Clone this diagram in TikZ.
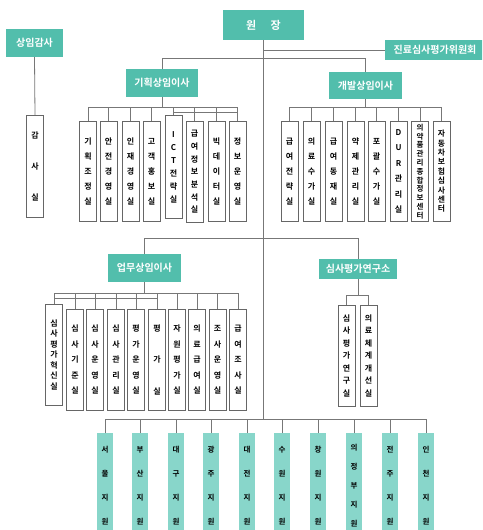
\documentclass[tikz,border=0pt]{standalone}
\usepackage{fontspec}
\setmainfont{Noto Sans CJK KR}[BoldFont={Noto Sans CJK KR Bold}]
\definecolor{tealA}{HTML}{52BEAC}
\definecolor{tealB}{HTML}{88D6CA}
\definecolor{lnc}{HTML}{777777}
\definecolor{bxc}{HTML}{666666}
\tikzset{
  ln/.style={draw=lnc, line width=0.8pt},
  hd/.style={fill=tealA, text=white, inner sep=0pt, font=\fontsize{10}{12}\selectfont\bfseries},
  sb/.style={draw=bxc, fill=white, line width=0.8pt, minimum width=17pt, minimum height=100pt,
    inner sep=0pt, anchor=north, align=center, font=\fontsize{8}{#1}\selectfont\bfseries},
  rg/.style={fill=tealB, minimum width=16pt, minimum height=105pt, inner sep=0pt, anchor=north,
    align=center, font=\fontsize{7.5}{#1}\selectfont\bfseries},
}
\begin{document}
\begin{tikzpicture}[x=1pt,y=-1pt]
\useasboundingbox (0,0) rectangle (482,530);
\begin{scope}
\clip (0,0) rectangle (482,530);
% headers
\node[hd, minimum width=81pt, minimum height=30pt, font=\fontsize{11}{13}\selectfont\bfseries] (won) at (263.5,25) {원\hspace{1.3em}장};
\node[hd, minimum width=57pt, minimum height=28pt] (gamsa) at (34.5,43) {상임감사};
\node[hd, minimum width=100pt, minimum height=20pt] (wiwon) at (435,50) {진료심사평가위원회};
\node[hd, minimum width=72pt, minimum height=28pt] (gihoek) at (162,83) {기획상임이사};
\node[hd, minimum width=73pt, minimum height=27pt] (gaebal) at (365.5,85.5) {개발상임이사};
\node[hd, minimum width=73pt, minimum height=28pt] (eopmu) at (144.5,268) {업무상임이사};
\node[hd, minimum width=78pt, minimum height=20pt] (yeongu) at (358,269) {심사평가연구소};
% audit
\node[sb=31, minimum height=102pt] (g1) at (35,115) {감\\사\\실};
% planning
\node[sb=15] (k1) at (88,121) {기\\획\\조\\정\\실};
\node[sb=15] (k2) at (108.5,121) {안\\전\\경\\영\\실};
\node[sb=15] (k3) at (130.5,121) {인\\재\\경\\영\\실};
\node[sb=15] (k4) at (151.5,121) {고\\객\\홍\\보\\실};
\node[sb=13, minimum height=103pt] (k5) at (173.5,115) {I\\C\\T\\전\\략\\실};
\node[sb=12.7, minimum height=101pt] (k6) at (194.5,121) {급\\여\\정\\보\\분\\석\\실};
\node[sb=15] (k7) at (216.5,121) {빅\\데\\이\\터\\실};
\node[sb=15] (k8) at (237.5,121) {정\\보\\운\\영\\실};
% development
\node[sb=15] (d1) at (289.5,121) {급\\여\\전\\략\\실};
\node[sb=15] (d2) at (311.5,121) {의\\료\\수\\가\\실};
\node[sb=15] (d3) at (333.5,121) {급\\여\\동\\재\\실};
\node[sb=15] (d4) at (355.5,121) {약\\제\\관\\리\\실};
\node[sb=15] (d5) at (376.5,121) {포\\괄\\수\\가\\실};
\node[sb=15.4] (d6) at (398.5,121) {D\\U\\R\\관\\리\\실};
\node[sb=8.8, font=\fontsize{7.5}{8.8}\selectfont\bfseries] (d7) at (420,121) {의\\약\\품\\관\\리\\종\\합\\정\\보\\센\\터};
\node[sb=9.4, font=\fontsize{7.8}{9.4}\selectfont\bfseries] (d8) at (441.5,121) {자\\동\\차\\보\\험\\심\\사\\센\\터};
% operations
\node[sb=10.5, minimum height=101pt] (u1) at (54,304) {심\\사\\평\\가\\혁\\신\\실};
\node[sb=15.5, minimum height=101pt] (u2) at (75,309) {심\\사\\기\\준\\실};
\node[sb=15.5, minimum height=101pt] (u3) at (95,309) {심\\사\\운\\영\\실};
\node[sb=15.5, minimum height=101pt] (u4) at (116,309) {심\\사\\관\\리\\실};
\node[sb=15.5, minimum height=101pt] (u5) at (136,309) {평\\가\\운\\영\\실};
\node[sb=31.5, minimum height=101pt] (u6) at (157,309) {평\\가\\실};
\node[sb=15.5, minimum height=101pt] (u7) at (177,309) {자\\원\\평\\가\\실};
\node[sb=15.5, minimum height=101pt] (u8) at (197,309) {의\\료\\급\\여\\실};
\node[sb=15.5, minimum height=101pt] (u9) at (217.5,309) {조\\사\\운\\영\\실};
\node[sb=15.5, minimum height=101pt] (u10) at (238,309) {급\\여\\조\\사\\실};
% research
\node[sb=12.5, minimum height=101pt] (r1) at (346.5,305) {심\\사\\평\\가\\연\\구\\실};
\node[sb=12.5, minimum height=101pt] (r2) at (368.5,305) {의\\료\\체\\계\\개\\선\\실};
% regional
\node[rg=24] (j1) at (105,433) {서\\울\\지\\원};
\node[rg=24] (j2) at (140,433) {부\\산\\지\\원};
\node[rg=24] (j3) at (176,433) {대\\구\\지\\원};
\node[rg=24] (j4) at (211,433) {광\\주\\지\\원};
\node[rg=24] (j5) at (247,433) {대\\전\\지\\원};
\node[rg=24] (j6) at (282,433) {수\\원\\지\\원};
\node[rg=24] (j7) at (318,433) {창\\원\\지\\원};
\node[rg=19] (j8) at (354,433) {의\\정\\부\\지\\원};
\node[rg=24] (j9) at (390,433) {전\\주\\지\\원};
\node[rg=24] (j10) at (426,433) {인\\천\\지\\원};
% connectors
\coordinate (trunkend) at (263.5,419);
\coordinate (b1) at (0,58);
\coordinate (b2) at (0,238);
\coordinate (kb) at (0,107);
\coordinate (kb2) at (0,112);
\coordinate (ub) at (0,293);
\coordinate (ub2) at (0,298);
\coordinate (rb) at (0,295);
\draw[ln] (won.south) -- (trunkend);
\draw[ln] (won.south |- wiwon.west) -- (wiwon.west);
\draw[ln] (gihoek.north) -- (gihoek.north |- b1) -- (gaebal.north |- b1) -- (gaebal.north);
\draw[ln] (gamsa.south) -- (g1.north);
% planning bus
\draw[ln] (gihoek.south) -- (gihoek.south |- kb);
\draw[ln] (k1.north) -- (k1.north |- kb) -- (k8.north |- kb) -- (k8.north);
\foreach \n in {k2,k3,k4,k5,k6,k7} \draw[ln] (\n.north) -- (\n.north |- kb);
\draw[ln] (k5.north |- kb2) -- (k8.north |- kb2);
% development bus
\draw[ln] (gaebal.south) -- (gaebal.south |- kb);
\draw[ln] (d1.north) -- (d1.north |- kb) -- (d8.north |- kb) -- (d8.north);
\foreach \n in {d2,d3,d4,d5,d6,d7} \draw[ln] (\n.north) -- (\n.north |- kb);
% lower split
\draw[ln] (eopmu.north) -- (eopmu.north |- b2) -- (yeongu.north |- b2) -- (yeongu.north);
% operations bus
\draw[ln] (eopmu.south) -- (eopmu.south |- ub);
\draw[ln] (u1.north) -- (u1.north |- ub) -- (u10.north |- ub) -- (u10.north);
\foreach \n in {u2,u3,u4,u5,u6,u7,u8,u9} \draw[ln] (\n.north) -- (\n.north |- ub);
\draw[ln] (u1.north |- ub2) -- (u6.north |- ub2);
% research bus
\draw[ln] (yeongu.south) -- (yeongu.south |- rb);
\draw[ln] (r1.north) -- (r1.north |- rb) -- (r2.north |- rb) -- (r2.north);
% regional bus
\draw[ln] (j1.north) -- (j1.north |- trunkend) -- (j10.north |- trunkend) -- (j10.north);
\foreach \n in {j2,j3,j4,j5,j6,j7,j8,j9} \draw[ln] (\n.north) -- (\n.north |- trunkend);
\end{scope}
\end{tikzpicture}
\end{document}
